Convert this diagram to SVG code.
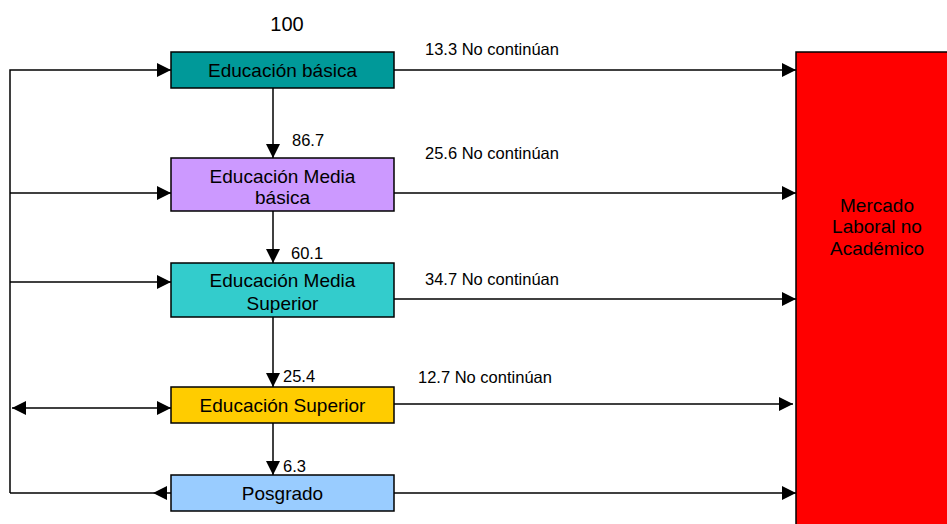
<svg xmlns="http://www.w3.org/2000/svg" width="947" height="524" viewBox="0 0 947 524">
<style>
.box{stroke:#000;stroke-width:1.5}
.bt{font-family:"Liberation Sans",Arial,sans-serif;font-size:19px;fill:#000;text-anchor:middle}
.lb{font-family:"Liberation Sans",Arial,sans-serif;font-size:16.5px;fill:#000}
.c{fill:none;stroke:#000;stroke-width:1.5}
</style>
<defs>
<marker id="ah" markerUnits="userSpaceOnUse" markerWidth="14" markerHeight="14" refX="14" refY="7" orient="auto-start-reverse" viewBox="0 0 14 14">
<path d="M0,0 L14,7 L0,14 z" fill="#000"/>
</marker>
<clipPath id="clip3"><rect x="171" y="263" width="223" height="50"/></clipPath>
</defs>
<rect width="947" height="524" fill="#fff"/>
<text class="lb" x="287" y="31" style="font-size:20px;text-anchor:middle">100</text>
<g id="connectors">
<path class="c" d="M10,493 L10,70 L171,70" marker-end="url(#ah)"/>
<path class="c" d="M10,193 L171,193" marker-end="url(#ah)"/>
<path class="c" d="M10,282 L171,282" marker-end="url(#ah)"/>
<path class="c" d="M12,408 L171,408" marker-start="url(#ah)" marker-end="url(#ah)"/>
<path class="c" d="M171,493 L153,493" marker-end="url(#ah)"/>
<path class="c" d="M153,493 L10,493"/>
<path class="c" d="M273,88 L273,158" marker-end="url(#ah)"/>
<path class="c" d="M273,211 L273,263" marker-end="url(#ah)"/>
<path class="c" d="M273,317 L273,387" marker-end="url(#ah)"/>
<path class="c" d="M273,423 L273,475" marker-end="url(#ah)"/>
<path class="c" d="M394,70 L796,70" marker-end="url(#ah)"/>
<path class="c" d="M394,193 L796,193" marker-end="url(#ah)"/>
<path class="c" d="M394,299 L796,299" marker-end="url(#ah)"/>
<path class="c" d="M389,404 L793,404" marker-end="url(#ah)"/>
<path class="c" d="M394,493 L796,493" marker-end="url(#ah)"/>
<text class="lb" x="292" y="146">86.7</text>
<text class="lb" x="291" y="259">60.1</text>
<text class="lb" x="283" y="382">25.4</text>
<text class="lb" x="283" y="472">6.3</text>
<text class="lb" x="425" y="55">13.3 No continúan</text>
<text class="lb" x="425" y="159">25.6 No continúan</text>
<text class="lb" x="425" y="285">34.7 No continúan</text>
<text class="lb" x="418" y="383">12.7 No continúan</text>
</g>
<g id="basica">
<rect class="box" x="171" y="52" width="223" height="36" fill="#009999"/>
<text class="bt" x="282.5" y="77">Educación básica</text>
</g>
<g id="media-basica">
<rect class="box" x="171" y="158" width="223" height="53" fill="#CC99FF"/>
<text class="bt" x="282.5" y="183">Educación Media</text>
<text class="bt" x="282.5" y="204">básica</text>
</g>
<g id="media-superior">
<rect class="box" x="171" y="263" width="223" height="54" fill="#33CCCC"/>
<g clip-path="url(#clip3)">
<text class="bt" x="282.5" y="287">Educación Media</text>
<text class="bt" x="282.5" y="310">Superior</text>
</g>
</g>
<g id="superior">
<rect class="box" x="171" y="387" width="223" height="36" fill="#FFCC00"/>
<text class="bt" x="282.5" y="412">Educación Superior</text>
</g>
<g id="posgrado">
<rect class="box" x="171" y="475" width="223" height="36" fill="#99CCFF"/>
<text class="bt" x="282.5" y="500">Posgrado</text>
</g>
<g id="mercado">
<rect class="box" x="796" y="52" width="162" height="480" fill="#FF0000"/>
<text class="bt" x="877" y="212">Mercado</text>
<text class="bt" x="877" y="233">Laboral no</text>
<text class="bt" x="877" y="255">Académico</text>
</g>
</svg>
